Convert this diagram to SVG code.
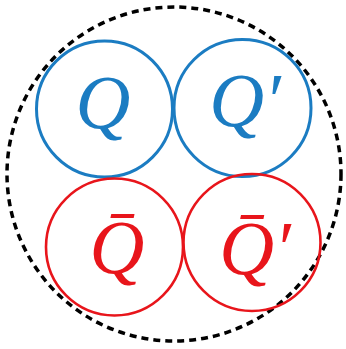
<svg xmlns="http://www.w3.org/2000/svg" width="346" height="349" viewBox="0 0 346 349">
<style>
.b{fill:none;stroke:#1b7cc2;stroke-width:3}
.r{fill:none;stroke:#e8151b;stroke-width:2.6}
.t{font-family:"Liberation Serif","DejaVu Serif",serif;font-style:italic;font-size:76px;text-anchor:middle}
.tb{fill:#1b7cc2}
.tr{fill:#e8151b}
</style>
<rect width="346" height="349" fill="#fff"/>
<g id="outer"><circle cx="174" cy="174" r="167" fill="none" stroke="#000" stroke-width="3.5" stroke-dasharray="7 5"/></g>
<g id="Q"><circle class="b" cx="104.5" cy="109" r="68"/><text class="t tb" x="103" y="128">Q</text></g>
<g id="Qp"><circle class="b" cx="242.5" cy="108" r="68.5"/><text class="t tb" x="245" y="126">Q′</text></g>
<g id="Qbar"><circle class="r" cx="114.5" cy="247" r="68.5"/><text class="t tr" x="117" y="273">Q̄</text></g>
<g id="Qbarp"><circle class="r" cx="252" cy="242.5" r="68.5"/><text class="t tr" x="255" y="274">Q̄′</text></g>
<g id="connectors"/>
</svg>
